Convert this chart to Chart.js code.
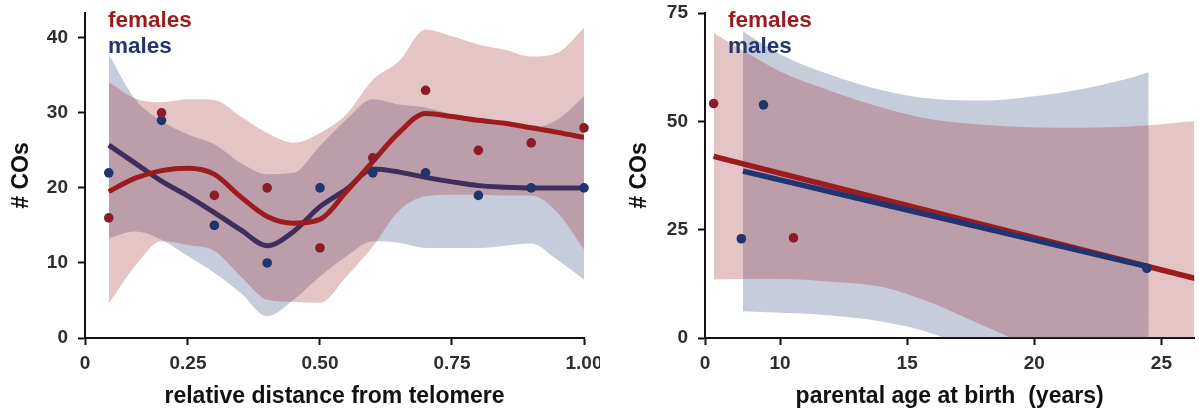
<!DOCTYPE html>
<html>
<head>
<meta charset="utf-8">
<title>COs by position and parental age</title>
<script src="https://cdn.jsdelivr.net/npm/chart.js@4.4.1/dist/chart.umd.min.js"></script>
<style>
  html, body { margin: 0; padding: 0; background: #fff; }
  body { width: 1199px; height: 412px; overflow: hidden; position: relative; font-family: "Liberation Sans", Arial, sans-serif; }
  .panel { position: absolute; top: 0; height: 412px; overflow: hidden; }
  #leftPanel { left: 0; width: 600px; }
  #rightPanel { left: 600px; width: 599px; }
  canvas { display: block; }
  .key { position: absolute; font-weight: bold; font-size: 22.5px; line-height: 22.5px; white-space: nowrap; }
  .females { color: #9b1b1f; }
  .males { color: #233670; }
</style>
</head>
<body>
<div class="panel" id="leftPanel">
  <canvas id="leftChart" width="640" height="412"></canvas>
  <div class="key females" style="left:108px; top:9px">females</div>
  <div class="key males" style="left:108px; top:35px">males</div>
</div>
<div class="panel" id="rightPanel">
  <canvas id="rightChart" width="599" height="412"></canvas>
  <div class="key females" style="left:128px; top:9px">females</div>
  <div class="key males" style="left:128px; top:35px">males</div>
</div>

<script>
// left panel: COs along the chromosome
const distance = [0.1, 0.2, 0.3, 0.4, 0.5, 0.6, 0.7, 0.8, 0.9, 1.0];
const femaleCOs = [16, 30, 19, 20, 12, 24, 33, 25, 26, 28];
const maleCOs = [22, 29, 15, 10, 20, 22, 22, 19, 20, 20];

// smoothed fits and their bands
const smoothGrid = [0.1, 0.15, 0.2, 0.25, 0.3, 0.35, 0.4, 0.45, 0.5, 0.55, 0.6, 0.65, 0.7, 0.75, 0.8, 0.85, 0.9, 0.95, 1.0];
const femaleSmooth = [19.5, 21.3, 22.3, 22.6, 21.8, 18.8, 16.2, 15.3, 15.8, 19.5, 23.5, 27.4, 29.9, 29.5, 29.0, 28.6, 28.0, 27.4, 26.7];
const femaleUpper = [34.1, 31.9, 31.4, 31.8, 31.7, 29.5, 27.3, 26.0, 27.3, 29.8, 34.4, 36.9, 41.1, 40.2, 39.1, 38.4, 37.5, 38.0, 41.3];
const femaleLower = [4.6, 9.6, 12.9, 12.4, 11.6, 8.2, 5.1, 4.8, 4.7, 8.2, 12.2, 17.0, 18.9, 19.1, 19.1, 19.0, 19.0, 16.7, 11.8];
const maleSmooth = [25.7, 23.3, 20.9, 18.9, 16.7, 14.4, 12.3, 14.2, 17.5, 19.8, 22.5, 22.1, 21.4, 20.8, 20.3, 20.1, 20.0, 20.0, 20.0];
const maleUpper = [37.8, 31.8, 28.9, 27.1, 25.8, 23.3, 21.8, 22.0, 25.6, 29.1, 31.8, 31.1, 30.7, 29.8, 29.1, 28.4, 28.0, 29.1, 32.2];
const maleLower = [13.3, 14.2, 13.1, 10.9, 8.7, 6.0, 2.9, 5.1, 8.2, 10.9, 12.9, 12.7, 12.0, 12.0, 12.0, 12.3, 12.6, 10.4, 7.8];

const leftXTicks = [0.055, 0.25, 0.5, 0.75, 1.0];
const leftXLabels = ['0', '0.25', '0.50', '0.75', '1.00'];
const leftYTicks = [0, 10, 20, 30, 40];
const leftYLabels = ['0', '10', '20', '30', '40'];

// right panel: COs against parental age
const femaleAge = [7.39, 10.53];
const femaleAgeCOs = [54.1, 23.1];
const maleAge = [8.48, 9.35, 24.43];
const maleAgeCOs = [22.9, 53.8, 16.1];

const femaleFitAge = [7.39, 27.5];
const femaleFitCOs = [41.9, 12.0];
const maleFitAge = [8.54, 24.5];
const maleFitCOs = [38.5, 16.4];

const femaleBandAge = [7.39, 8.5, 10, 12, 14, 16, 18, 20, 22, 24, 26, 27.5];
const femaleBandUpper = [70.4, 66.5, 61.5, 57.0, 53.2, 50.4, 49.2, 48.6, 48.5, 48.9, 49.9, 50.8];
const femaleBandLower = [13.5, 13.6, 13.6, 13.0, 11.8, 8.0, 2.8, -2.3, -7.5, -12.5, -17.5, -21];
const maleBandAge = [8.54, 10, 12, 14, 16, 18, 20, 22, 24, 24.5];
const maleBandUpper = [70.8, 65.5, 60.7, 57.2, 55.2, 54.8, 55.8, 57.6, 60.4, 61.3];
const maleBandLower = [6.2, 5.8, 5.2, 3.8, 1.0, -4, -10.5, -17, -25, -27];

const rightXTicks = [7.05, 10, 15, 20, 25];
const rightXLabels = ['0', '10', '15', '20', '25'];
const rightYTicks = [0, 25, 50, 75];
const rightYLabels = ['0', '25', '50', '75'];

const RED = '#9b1b1f';
const RED_DOT = '#8c1a29';
const NAVY = '#1f3470';
const RED_FILL = 'rgba(155, 27, 31, 0.26)';
const NAVY_FILL = 'rgba(31, 52, 112, 0.25)';

const tickFont = { family: 'Liberation Sans', size: 19, weight: 'bold' };
const titleFont = { family: 'Liberation Sans', size: 23, weight: 'bold' };

function pts(xs, ys) {
  return xs.map((x, i) => ({ x: x, y: ys[i] }));
}

function bandUpper(xs, ys, fill, order) {
  return {
    data: pts(xs, ys), fill: '+1', backgroundColor: fill,
    borderColor: 'rgba(0,0,0,0)', borderWidth: 0, pointRadius: 0,
    cubicInterpolationMode: 'monotone', order: order
  };
}

function bandLower(xs, ys, order) {
  return {
    data: pts(xs, ys), fill: false,
    borderColor: 'rgba(0,0,0,0)', borderWidth: 0, pointRadius: 0,
    cubicInterpolationMode: 'monotone', order: order
  };
}

function fitLine(xs, ys, color, width, order) {
  return {
    data: pts(xs, ys), fill: false, borderColor: color, borderWidth: width,
    borderCapStyle: 'butt', pointRadius: 0, cubicInterpolationMode: 'monotone', order: order
  };
}

function dots(xs, ys, color, order) {
  return {
    data: pts(xs, ys), showLine: false, pointRadius: 4.8, pointBorderWidth: 0,
    pointBackgroundColor: color, borderColor: color, clip: false, order: order
  };
}

function axis(cfg) {
  return {
    type: 'linear',
    position: cfg.position,
    min: cfg.ticks[0],
    max: cfg.max,
    border: { display: true, color: '#111', width: 2 },
    grid: { display: true, drawOnChartArea: false, drawTicks: true, tickLength: 7, tickWidth: 2, tickColor: '#111' },
    ticks: {
      autoSkip: false, maxRotation: 0, padding: cfg.pad, color: '#2d2d2d', font: tickFont,
      callback: (value, index) => cfg.labels[index]
    },
    title: { display: true, text: cfg.title, color: '#111', font: titleFont, padding: cfg.titlePad },
    afterBuildTicks: scale => { scale.ticks = cfg.ticks.map(v => ({ value: v })); },
    afterFit: scale => {
      if (cfg.width) scale.width = cfg.width;
      if (cfg.height) scale.height = cfg.height;
      // let the layout padding alone decide the plot edges
      scale.paddingTop = 0;
      scale.paddingBottom = 0;
      scale.paddingLeft = 0;
      scale.paddingRight = 0;
    }
  };
}

function buildChart(id, datasets, xCfg, yCfg, padRight) {
  const ctx = document.getElementById(id).getContext('2d');
  return new Chart(ctx, {
    type: 'line',
    data: { datasets: datasets },
    options: {
      responsive: false,
      animation: false,
      devicePixelRatio: 1,
      layout: { padding: { left: 0, top: 13, right: padRight, bottom: 0 } },
      plugins: { legend: { display: false }, tooltip: { enabled: false } },
      scales: { x: axis(xCfg), y: axis(yCfg) }
    }
  });
}

buildChart('leftChart', [
  bandUpper(smoothGrid, maleUpper, NAVY_FILL, 10),
  bandLower(smoothGrid, maleLower, 9),
  fitLine(smoothGrid, maleSmooth, NAVY, 5, 8),
  bandUpper(smoothGrid, femaleUpper, RED_FILL, 7),
  bandLower(smoothGrid, femaleLower, 6),
  fitLine(smoothGrid, femaleSmooth, RED, 5, 5),
  dots(distance, maleCOs, NAVY, 2),
  dots(distance, femaleCOs, RED_DOT, 1)
], {
  position: 'bottom', ticks: leftXTicks, labels: leftXLabels, max: 1.0,
  pad: 7, title: 'relative distance from telomere', titlePad: { top: 2, bottom: 2 }, height: 74
}, {
  position: 'left', ticks: leftYTicks, labels: leftYLabels, max: 43.3,
  pad: 10, title: '# COs', titlePad: { top: 8, bottom: 8 }, width: 85
}, 56);

buildChart('rightChart', [
  bandUpper(maleBandAge, maleBandUpper, NAVY_FILL, 10),
  bandLower(maleBandAge, maleBandLower, 9),
  bandUpper(femaleBandAge, femaleBandUpper, RED_FILL, 8),
  bandLower(femaleBandAge, femaleBandLower, 7),
  fitLine(femaleFitAge, femaleFitCOs, RED, 5.5, 4),
  fitLine(maleFitAge, maleFitCOs, NAVY, 5.5, 3),
  dots(maleAge, maleAgeCOs, NAVY, 2),
  dots(femaleAge, femaleAgeCOs, RED_DOT, 1)
], {
  position: 'bottom', ticks: rightXTicks, labels: rightXLabels, max: 26.29,
  pad: 7, title: 'parental age at birth  (years)', titlePad: { top: 2, bottom: 2 }, height: 74
}, {
  position: 'left', ticks: rightYTicks, labels: rightYLabels, max: 75,
  pad: 10, title: '# COs', titlePad: { top: 26, bottom: 26 }, width: 105
}, 0);
</script>
</body>
</html>
